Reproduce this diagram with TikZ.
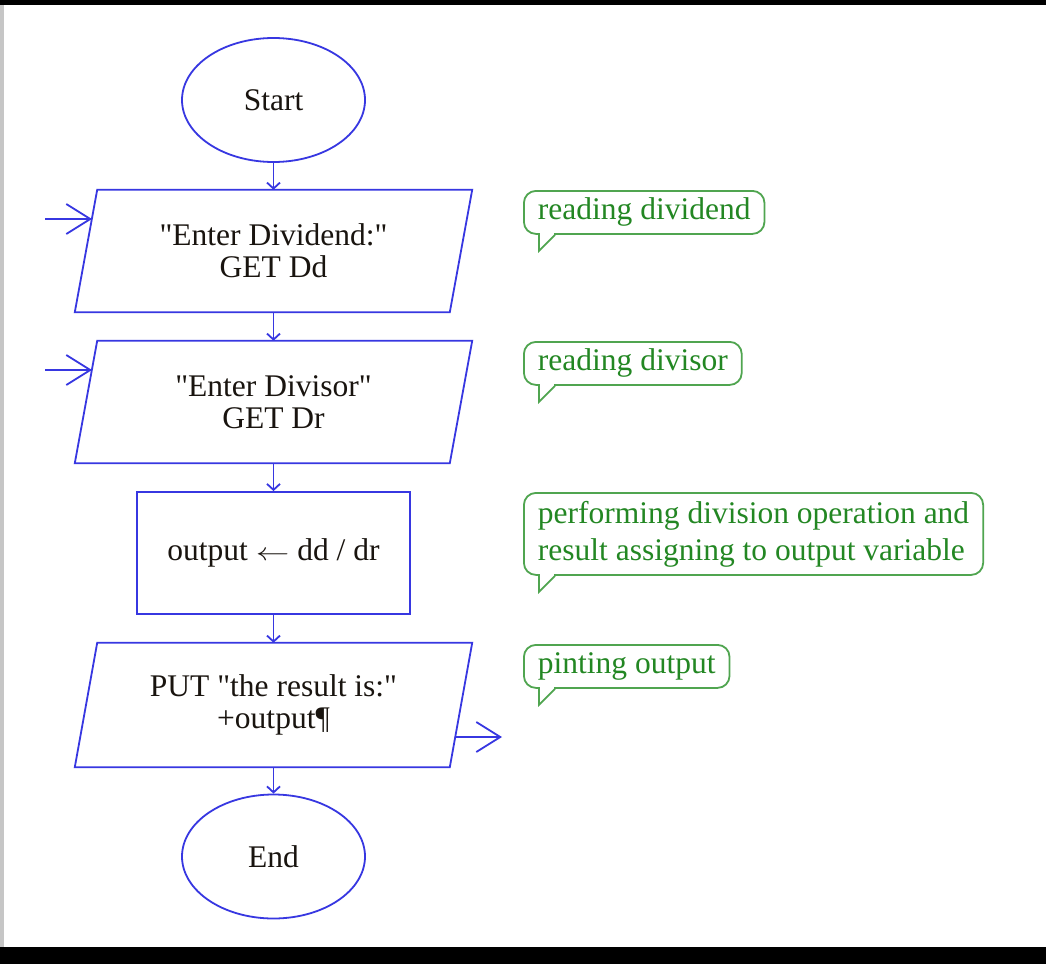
\documentclass[tikz,border=0pt]{standalone}
\usepackage{fontspec}
\usepackage{graphicx}
\setmainfont{Liberation Serif}
\usetikzlibrary{arrows.meta,shapes.geometric}
\definecolor{fblue}{RGB}{55,55,225}
\definecolor{fgreen}{RGB}{35,135,35}
\definecolor{fgreenline}{RGB}{80,165,80}
\definecolor{ftext}{RGB}{25,20,15}
\newcommand{\dq}{\textquotedbl}
\begin{document}
\begin{tikzpicture}[x=1pt,y=-1pt,
  every node/.style={font=\fontsize{31.5}{32}\selectfont, text=ftext, inner sep=0pt},
  term/.style={ellipse, draw=fblue, line width=1.8pt, minimum width=183pt, minimum height=124pt},
  iobox/.style={minimum width=397pt, minimum height=122pt, align=center},
  iooutline/.style={draw=fblue, line width=1.8pt, line join=miter},
  procbox/.style={rectangle, draw=fblue, line width=1.8pt, minimum width=273pt, minimum height=122pt},
  flow/.style={draw=fblue, line width=1.8pt, -{Straight Barb[length=6pt,width=13pt]}},
  bigarrow/.style={draw=fblue, line width=1.8pt, -{Straight Barb[length=24pt,width=30pt]}},
  note/.style={draw=fgreenline, text=fgreen, line width=1.8pt, rounded corners=12pt, anchor=north west, align=left, inner xsep=14pt, minimum height=43pt, font=\fontsize{31.5}{37}\selectfont},
  notetail/.style={draw=fgreenline, line width=1.8pt, line join=miter},
]
% background / screenshot frame
\fill[white] (0,0) rectangle (1046,964);
\fill[black] (0,0) rectangle (1046,5);
\fill[gray!45] (0,5) rectangle (4,947);
\fill[black] (0,947) rectangle (1046,964);

% flowchart nodes
\node[term] (start) at (273.5,100) {Start};
\node[iobox] (in1) at (273.5,251) {\dq Enter Dividend:\dq\\GET Dd};
\draw[iooutline] (in1.south west) -- ++(375,0) -- (in1.north east) -- ++(-375,0) -- cycle;
\node[iobox] (in2) at (273.5,402) {\dq Enter Divisor\dq\\GET Dr};
\draw[iooutline] (in2.south west) -- ++(375,0) -- (in2.north east) -- ++(-375,0) -- cycle;
\node[procbox] (proc) at (273.5,553) {output \scalebox{1.35}[1]{$\leftarrow$} dd / dr};
\node[iobox, minimum height=124pt] (out) at (273.5,705) {PUT \dq the result is:\dq\\+output¶};
\draw[iooutline] (out.south west) -- ++(375,0) -- (out.north east) -- ++(-375,0) -- cycle;
\node[term] (end) at (273.5,856.5) {End};

% connectors
\draw[flow] (start) -- (in1);
\draw[flow] (in1) -- (in2);
\draw[flow] (in2) -- (proc);
\draw[flow] (proc) -- (out);
\draw[flow] (out) -- (end);

% input / output arrows
\coordinate (i1s) at (45,219);
\coordinate (i1e) at (92,219);
\coordinate (i2s) at (45,370);
\coordinate (i2e) at (92,370);
\coordinate (o1s) at (455,737);
\coordinate (o1e) at (502,737);
\draw[bigarrow] (i1s) -- (i1e);
\draw[bigarrow] (i2s) -- (i2e);
\draw[bigarrow] (o1s) -- (o1e);

% comments
\node[note] (n1) at (523,190) {reading dividend};
\node[note] (n2) at (523,341) {reading divisor};
\node[note, minimum height=82pt] (n3) at (523,492) {performing division operation and\\result assigning to output variable};
\node[note] (n4) at (523,644) {pinting output};
\foreach \n in {n1,n2,n3,n4}{
  \fill[white] ([xshift=17pt,yshift=1.5pt]\n.south west) rectangle ([xshift=31pt,yshift=-1.5pt]\n.south west);
  \draw[notetail] ([xshift=16pt]\n.south west) -- ++(0,16) -- ([xshift=32pt]\n.south west);
}
\end{tikzpicture}
\end{document}
